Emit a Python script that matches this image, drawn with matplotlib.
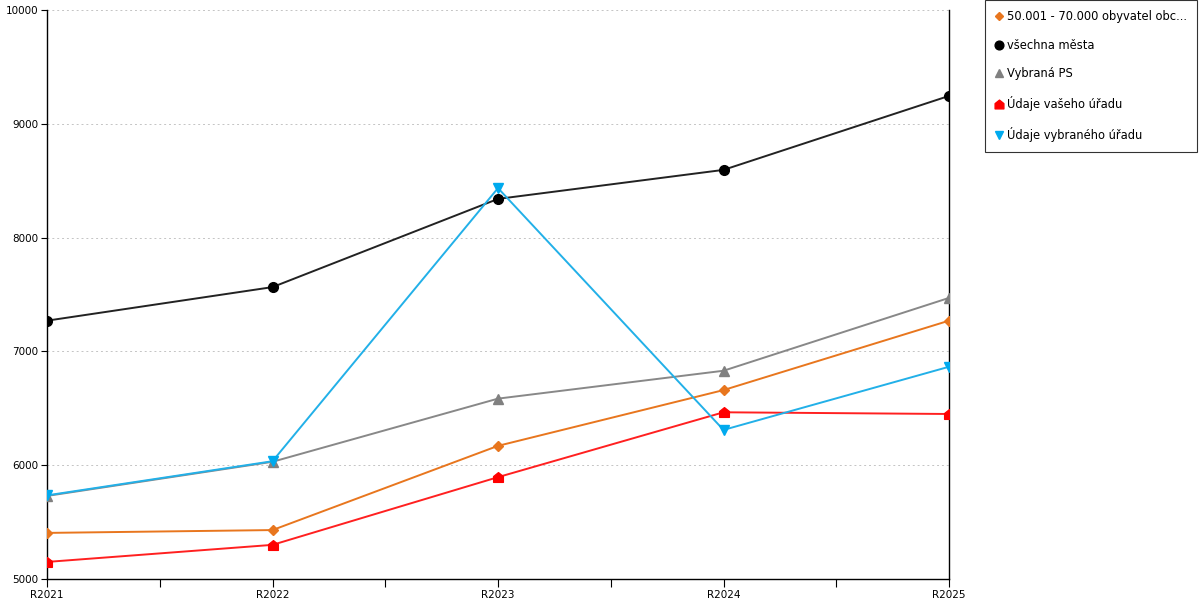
import matplotlib.pyplot as plt
from matplotlib.lines import Line2D
from matplotlib.path import Path
import numpy as np

plt.rcParams['font.family'] = 'DejaVu Sans'
plt.rcParams['font.size'] = 7.5

# Data
years = ['R2021', 'R2022', 'R2023', 'R2024', 'R2025']
obec_50_70 = [5405, 5430, 6170, 6660, 7270]
vsechna_mesta = [7270, 7565, 8340, 8595, 9245]
vybrana_ps = [5730, 6030, 6585, 6830, 7470]
vaseho_uradu = [5150, 5300, 5895, 6465, 6450]
vybraneho_uradu = [5735, 6035, 8435, 6310, 6865]

labels = ['50.001 - 70.000 obyvatel obc...', 'všechna města', 'Vybraná PS',
          'Údaje vašeho úřadu', 'Údaje vybraného úřadu']

# house-shaped marker
house = Path([(-1, -1), (1, -1), (1, 0.2), (0, 1), (-1, 0.2), (-1, -1)],
             [Path.MOVETO, Path.LINETO, Path.LINETO, Path.LINETO, Path.LINETO, Path.CLOSEPOLY])

series = [
    (obec_50_70, '#e8761e', 'D', 5),
    (vsechna_mesta, '#000000', 'o', 7),
    (vybrana_ps, '#808080', '^', 7),
    (vaseho_uradu, '#ff0000', house, 7),
    (vybraneho_uradu, '#00aaee', 'v', 7),
]
line_colors = ['#e8761e', '#222222', '#888888', '#ff2020', '#22b0e8']

fig = plt.figure(figsize=(12, 6), dpi=100)
ax = fig.add_axes([47 / 1200, 21 / 600, 902 / 1200, 569 / 600])

x = np.arange(len(years))
for (vals, c, m, ms), lc in zip(series, line_colors):
    ax.plot(x, vals, color=lc, linewidth=1.4, marker=m, markersize=ms,
            markerfacecolor=c, markeredgecolor=c, zorder=3)

ax.set_xlim(0, len(years) - 1)
ax.set_ylim(5000, 10000)
ax.set_xticks(x, years)
ax.set_xticks(x[:-1] + 0.5, minor=True)
ax.set_yticks(np.arange(5000, 10001, 1000))
ax.tick_params(axis='x', which='both', direction='out', length=6, width=0.8, pad=2)
ax.tick_params(axis='y', direction='out', length=4, width=0.8, pad=2)
ax.yaxis.grid(True, linestyle=(0, (2, 3)), linewidth=0.7, color='#c4c4c4')
ax.set_axisbelow(True)
for s in ['left', 'bottom', 'right']:
    ax.spines[s].set_color('black')
    ax.spines[s].set_linewidth(1)
ax.spines['top'].set_visible(False)

handles = [Line2D([], [], linestyle='none', marker=m, markersize=ms * 0.9,
                  markerfacecolor=c, markeredgecolor=c) for (v, c, m, ms) in series]
leg = fig.legend(handles, labels, loc='upper left', bbox_to_anchor=(985 / 1200, 1.0),
                 frameon=True, fancybox=False, edgecolor='black', fontsize=8.3,
                 labelspacing=1.35, handletextpad=0.4, handlelength=0.6,
                 borderpad=0.9, borderaxespad=0)
leg.get_frame().set_linewidth(0.8)

fig.savefig('out.png', dpi=100)
